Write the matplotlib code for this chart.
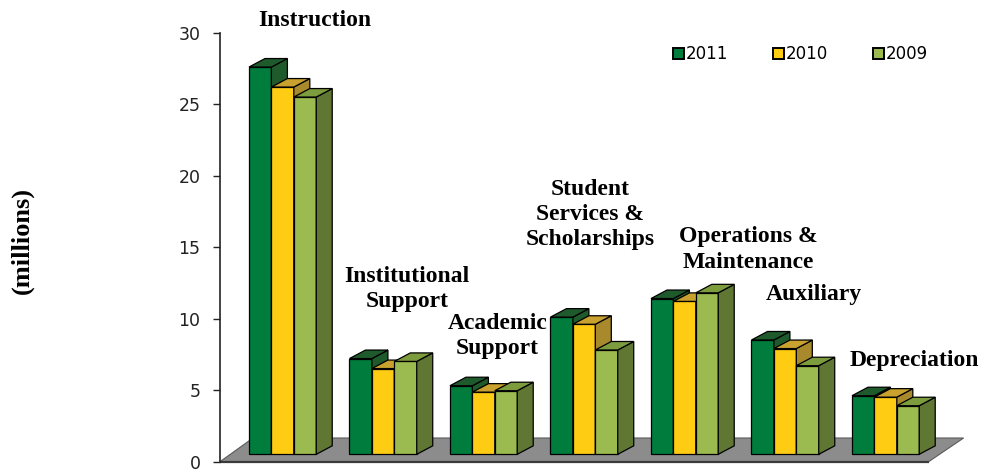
import matplotlib
import matplotlib.pyplot as plt
import numpy as np
from matplotlib.patches import Patch, Polygon

matplotlib.use("Agg")

# Expenses by function, in millions
categories = [
    "Instruction",
    "Institutional\nSupport",
    "Academic\nSupport",
    "Student\nServices &\nScholarships",
    "Operations &\nMaintenance",
    "Auxiliary",
    "Depreciation",
]
years = ["2011", "2010", "2009"]
spend_2011 = [27.1, 6.7, 4.8, 9.6, 10.9, 8.0, 4.1]
spend_2010 = [25.7, 6.0, 4.35, 9.1, 10.7, 7.4, 4.0]
spend_2009 = [25.0, 6.5, 4.45, 7.3, 11.3, 6.2, 3.4]
series = [spend_2011, spend_2010, spend_2009]

# front / top / side shades for the pseudo-3D columns
FRONT = ["#007C3D", "#FFCC14", "#9BBB50"]
TOP = ["#1F5A2C", "#C9A12F", "#7C9C3E"]
SIDE = ["#1F5A2C", "#A8892B", "#5F7733"]

W, H = 982, 471
PX_X = 100.5  # pixels per category step
PX_Y = 14.29  # pixels per million

BAR_W = 0.223
BASE = 7.4 / PX_Y  # columns stand a little back on the floor
DX = 16 / PX_X
DY = 8.5 / PX_Y

# label anchor points (category units, millions)
LABEL_POS = [
    (0.32, 30.9),
    (1.24, 12.1),
    (2.14, 8.8),
    (3.06, 17.3),
    (4.63, 14.85),
    (5.29, 11.7),
    (6.29, 7.1),
]

fig = plt.figure(figsize=(W / 100, H / 100), dpi=100)
ax = fig.add_axes([220 / W, 9.3 / H, 745 / W, 428.7 / H])
x_left = -0.623
ax.set_xlim(x_left, x_left + 745 / PX_X)
ax.set_ylim(0, 30)

# gray floor
floor_depth = 23.7 / PX_Y
floor = Polygon(
    [
        (x_left, 0),
        (len(categories) - 0.572, 0),
        (len(categories) - 0.224, floor_depth),
        (x_left + 33 / PX_X, floor_depth),
    ],
    closed=True,
    facecolor="#8C8C8C",
    edgecolor="#5A5A5A",
    lw=0.8,
    zorder=1,
    clip_on=False,
)
ax.add_patch(floor)
ax.plot([x_left, len(categories) - 0.572], [0, 0], color="#3A3A3A", lw=1.6,
        zorder=1.5, clip_on=False, solid_capstyle="butt")

idx = np.arange(len(categories))
for j, vals in enumerate(series):
    z = 3 + j
    rects = ax.bar(idx + (j - 1) * BAR_W, vals, width=BAR_W, bottom=BASE,
                   color=FRONT[j], edgecolor="black", lw=0.9, zorder=z)
    for r in rects:
        x0, x1 = r.get_x(), r.get_x() + r.get_width()
        y0, y1 = r.get_y(), r.get_y() + r.get_height()
        top = Polygon([(x0, y1), (x1, y1), (x1 + DX, y1 + DY), (x0 + DX, y1 + DY)],
                      facecolor=TOP[j], edgecolor="black", lw=0.9, zorder=z)
        side = Polygon([(x1, y0), (x1, y1), (x1 + DX, y1 + DY), (x1 + DX, y0 + DY)],
                       facecolor=SIDE[j], edgecolor="black", lw=0.9, zorder=z)
        ax.add_patch(side)
        ax.add_patch(top)

for label, (lx, ly) in zip(categories, LABEL_POS):
    ax.text(lx, ly, label, ha="center", va="center", multialignment="center",
            family="Liberation Serif", weight="bold", fontsize=17,
            linespacing=1.28, zorder=10)

# axes styling
for side_name in ("top", "right", "bottom"):
    ax.spines[side_name].set_visible(False)
ax.spines["left"].set_color("#222222")
ax.spines["left"].set_linewidth(1.2)
ax.set_xticks([])
ax.set_yticks(range(0, 31, 5))
ax.tick_params(axis="y", direction="out", length=5, width=1, pad=9,
               labelsize=12.5, colors="#222222")
ax.patch.set_visible(False)

fig.text(22 / W, 1 - 240 / H, "(millions)", rotation=90, ha="center", va="center",
         family="Liberation Serif", weight="bold", fontsize=19)

handles = [Patch(facecolor=FRONT[j], edgecolor="black", lw=1.4) for j in range(3)]
fig.legend(handles, years, loc="upper left", bbox_to_anchor=(665 / W, 1 - 37 / H),
           bbox_transform=fig.transFigure, ncol=3, frameon=False, fontsize=12,
           borderpad=0, handlelength=0.66, handleheight=0.66, handletextpad=0.1,
           columnspacing=2.7)

fig.savefig("out.png", dpi=100)
